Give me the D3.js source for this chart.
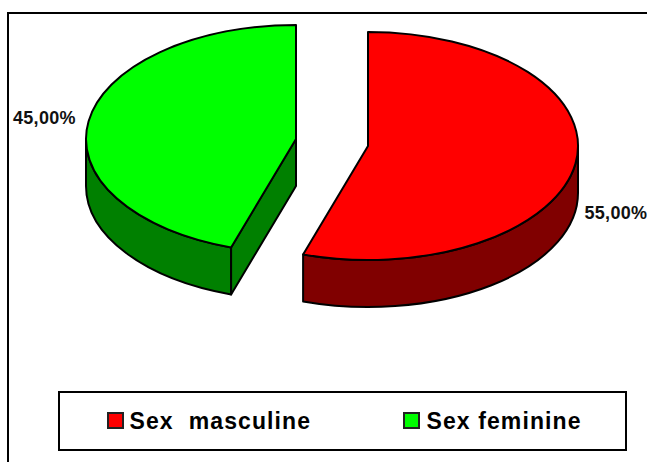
<!DOCTYPE html>
<html>
<head>
<meta charset="utf-8">
<script src="https://cdn.jsdelivr.net/npm/d3@7"></script>
<style>
  html, body { margin: 0; padding: 0; background: #fff; }
  svg { display: block; }
  text { font-family: "Liberation Sans", Arial, sans-serif; font-weight: bold; fill: #000; }
</style>
</head>
<body>
<div id="chart"></div>
<script>
const categories = ["Sex  masculine", "Sex feminine"];
const percentages = [55, 45];
const valueLabels = ["55,00%", "45,00%"];
const topColors = ["#ff0000", "#00ff00"];
const sideColors = ["#800000", "#008000"];

const width = 647, height = 462;
const rx = 210, ry = 114, depth = 47;
// exploded slices, so each one has its own apex
const centers = [{ x: 368, y: 146 }, { x: 296, y: 139 }];

const svg = d3.select("#chart")
              .append("svg")
              .attr("width", width)
              .attr("height", height);

// Chart frame, cropped on the right and bottom like the source
svg.append("path")
   .attr("d", `M8,${height} V13 H${width}`)
   .attr("fill", "none")
   .attr("stroke", "#000")
   .attr("stroke-width", 2);

const pie = d3.pie().sort(null).value(d => d);
const slices = pie(percentages);

const px = (c, a) => c.x + rx * Math.sin(a);
const py = (c, a) => c.y - ry * Math.cos(a);

function arcTo(c, a, dy, sweep, large) {
    return `A${rx},${ry} 0 ${large} ${sweep} ${px(c, a)},${py(c, a) + dy}`;
}

slices.forEach((s, i) => {
    const c = centers[i];
    const g = svg.append("g");

    // Outer wall: only the part of the rim facing the viewer
    const wallStart = Math.max(s.startAngle, Math.PI / 2);
    const wallEnd = Math.min(s.endAngle, 3 * Math.PI / 2);
    const large = wallEnd - wallStart > Math.PI ? 1 : 0;
    g.append("path")
     .attr("d", `M${px(c, wallStart)},${py(c, wallStart)}`
              + arcTo(c, wallEnd, 0, 1, large)
              + `V${py(c, wallEnd) + depth}`
              + arcTo(c, wallStart, depth, 0, large)
              + "Z")
     .attr("fill", sideColors[i])
     .attr("stroke", "#000")
     .attr("stroke-width", 2)
     .attr("stroke-linejoin", "round");

    // Cut face, visible only when the start edge looks towards the viewer
    if (s.startAngle > Math.PI) {
        g.append("path")
         .attr("d", `M${c.x},${c.y}V${c.y + depth}`
                  + `L${px(c, s.startAngle)},${py(c, s.startAngle) + depth}`
                  + `V${py(c, s.startAngle)}Z`)
         .attr("fill", sideColors[i])
         .attr("stroke", "#000")
         .attr("stroke-width", 2)
         .attr("stroke-linejoin", "round");
    }

    // Top face
    const topLarge = s.endAngle - s.startAngle > Math.PI ? 1 : 0;
    g.append("path")
     .attr("d", `M${c.x},${c.y}L${px(c, s.startAngle)},${py(c, s.startAngle)}`
              + arcTo(c, s.endAngle, 0, 1, topLarge) + "Z")
     .attr("fill", topColors[i])
     .attr("stroke", "#000")
     .attr("stroke-width", 2)
     .attr("stroke-linejoin", "round");
});

// Value labels
const labelPos = [{ x: 584.5, y: 219 }, { x: 13, y: 124 }];
svg.selectAll(".value-label")
   .data(valueLabels)
   .enter()
   .append("text")
   .attr("class", "value-label")
   .attr("x", (d, i) => labelPos[i].x)
   .attr("y", (d, i) => labelPos[i].y)
   .attr("font-size", 18)
   .attr("letter-spacing", 0.3)
   .style("fill", "#111")
   .text(d => d);

// Legend
svg.append("rect")
   .attr("x", 59).attr("y", 392)
   .attr("width", 567).attr("height", 58)
   .attr("fill", "#fff")
   .attr("stroke", "#000")
   .attr("stroke-width", 2);

const legendX = [108, 405];
const legend = svg.selectAll(".legend-item")
                  .data(categories)
                  .enter()
                  .append("g")
                  .attr("class", "legend-item")
                  .attr("transform", (d, i) => `translate(${legendX[i]},413)`);

legend.append("rect")
      .attr("x", (d, i) => i ? -1 : 0)
      .attr("width", 15).attr("height", 15)
      .attr("fill", (d, i) => topColors[i])
      .attr("stroke", "#222")
      .attr("stroke-width", 2);

legend.append("text")
      .attr("x", 21.5)
      .attr("y", 16)
      .attr("font-size", 23)
      .attr("letter-spacing", 1.1)
      .style("white-space", "pre")
      .text(d => d);
</script>
</body>
</html>
